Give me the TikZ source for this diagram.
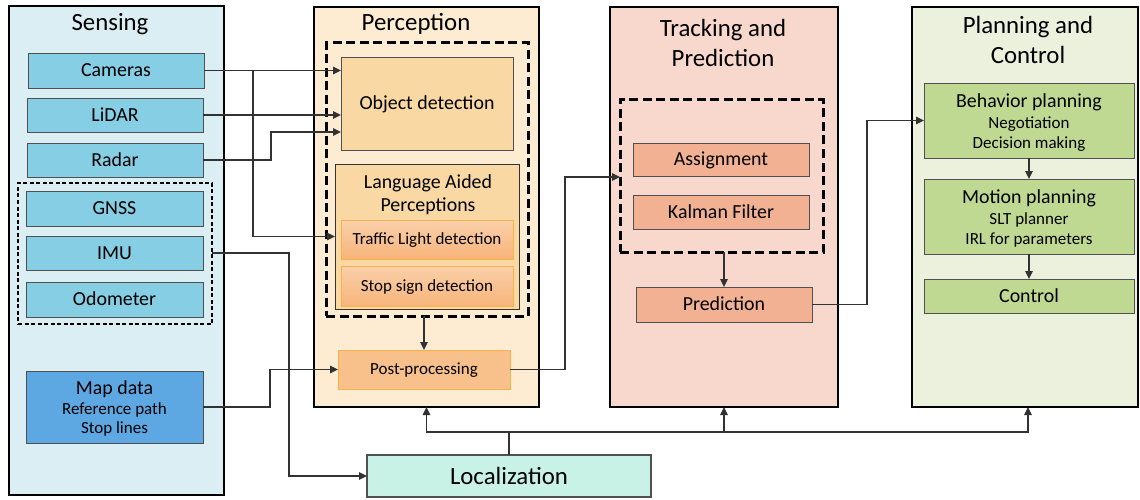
\documentclass[tikz,border=0pt]{standalone}
\usepackage{fontspec}
\setmainfont{Carlito}
\usetikzlibrary{arrows.meta,calc}
\definecolor{sensbg}{RGB}{218,238,244}
\definecolor{sensfill}{RGB}{134,206,228}
\definecolor{mapfill}{RGB}{93,168,226}
\definecolor{percbg}{RGB}{253,235,210}
\definecolor{objfill}{RGB}{249,216,163}
\definecolor{orgtop}{RGB}{250,208,170}
\definecolor{orgbot}{RGB}{247,180,122}
\definecolor{orgline}{RGB}{248,178,75}
\definecolor{postfill}{RGB}{248,192,138}
\definecolor{trackbg}{RGB}{248,216,204}
\definecolor{trackfill}{RGB}{241,177,146}
\definecolor{planbg}{RGB}{235,241,221}
\definecolor{planfill}{RGB}{192,217,146}
\definecolor{locfill}{RGB}{199,242,229}
\definecolor{boxgray}{RGB}{80,80,80}
\definecolor{linegray}{RGB}{50,50,50}
\newcommand\ftitle{\fontsize{24.8}{29.5}\selectfont}
\newcommand\fmain{\fontsize{19.9}{23}\selectfont}
\newcommand\fsmall{\fontsize{17}{20}\selectfont}
\begin{document}
\begin{tikzpicture}[x=1pt,y=-1pt,
  titlefont/.style={font=\ftitle, text height=16pt, text depth=0pt},
  mainfont/.style={font=\fmain, text height=12.8pt, text depth=0pt},
  smallfont/.style={font=\fsmall, text height=10.9pt, text depth=0pt},
  outerbox/.style={draw=black, line width=1.8pt, inner sep=0pt, outer sep=0pt},
  innerbox/.style={draw=boxgray, line width=0.9pt, inner sep=0pt, outer sep=0pt, mainfont},
  orangebox/.style={draw=orgline, line width=0.9pt, inner sep=0pt, outer sep=0pt, smallfont},
  thingroup/.style={draw=black, line width=1.4pt, dash pattern=on 4pt off 2.5pt, inner sep=0pt, outer sep=0pt},
  thickgroup/.style={draw=black, line width=3pt, dash pattern=on 9pt off 4.5pt, inner sep=0pt, outer sep=0pt},
  titletext/.style={titlefont, inner sep=0pt},
  maintext/.style={mainfont, inner sep=0pt},
  smalltext/.style={smallfont, inner sep=0pt},
  conn/.style={draw=linegray, line width=1.2pt},
  arr/.style={conn, -{Triangle[length=8pt,width=7.5pt]}}
]
\useasboundingbox (0,0) rectangle (1140,500);

% ---------- Sensing ----------
\node[outerbox, fill=sensbg, minimum width=215pt, minimum height=489pt] (sens) at (116.5,250.5) {};
\node[titletext] (senst) at (110,23) {Sensing};
\node[innerbox, fill=sensfill, minimum width=176pt, minimum height=35pt] (cam) at (116,70.5) {Cameras};
\node[innerbox, fill=sensfill, minimum width=176pt, minimum height=34pt] (lidar) at (115,115) {LiDAR};
\node[innerbox, fill=sensfill, minimum width=176pt, minimum height=34pt] (radar) at (115,160) {Radar};
\node[thingroup, minimum width=194pt, minimum height=141pt] (sgroup) at (115,253.5) {};
\node[innerbox, fill=sensfill, minimum width=177pt, minimum height=35pt] (gnss) at (114.5,208.5) {GNSS};
\node[innerbox, fill=sensfill, minimum width=177pt, minimum height=34pt] (imu) at (114.5,253) {IMU};
\node[innerbox, fill=sensfill, minimum width=177pt, minimum height=35pt] (odo) at (114.5,299.5) {Odometer};
\node[innerbox, fill=mapfill, minimum width=177pt, minimum height=72pt] (map) at (114.5,407) {};
\node[maintext] (mapt1) at (114.5,388) {Map data};
\node[smalltext] (mapt2) at (114.5,409) {Reference path};
\node[smalltext] (mapt3) at (114.5,428) {Stop lines};

% ---------- Perception ----------
\node[outerbox, fill=percbg, minimum width=225pt, minimum height=400pt] (perc) at (426.5,207) {};
\node[titletext] (perct) at (416,23) {Perception};
\node[thickgroup, minimum width=202pt, minimum height=273pt] (pgroup) at (427,179.5) {};
\node[innerbox, fill=objfill, minimum width=172pt, minimum height=93pt] (objdet) at (427,103.5) {Object detection};
\node[draw=black!80, line width=1pt, fill=objfill, inner sep=0pt, outer sep=0pt, minimum width=184pt, minimum height=145pt] (lang) at (427,236.5) {};
\node[maintext] (langt1) at (428,182) {Language Aided};
\node[maintext] (langt2) at (428,205) {Perceptions};
\node[orangebox, top color=orgtop, bottom color=orgbot, minimum width=172pt, minimum height=39pt] (traffic) at (427,239.5) {Traffic Light detection};
\node[orangebox, top color=orgtop, bottom color=orgbot, minimum width=172pt, minimum height=40pt] (stop) at (427,286) {Stop sign detection};
\node[orangebox, fill=postfill, minimum width=172pt, minimum height=39pt] (post) at (424,369.5) {Post-processing};

% ---------- Tracking and Prediction ----------
\node[outerbox, fill=trackbg, minimum width=228pt, minimum height=400pt] (track) at (724,207) {};
\node[titletext] (trackt1) at (723,29) {Tracking and};
\node[titletext] (trackt2) at (723,59) {Prediction};
\node[thickgroup, minimum width=203pt, minimum height=152pt] (tgroup) at (721.5,176) {};
\node[innerbox, fill=trackfill, minimum width=176pt, minimum height=33pt] (assign) at (721,159.5) {Assignment};
\node[innerbox, fill=trackfill, minimum width=176pt, minimum height=34pt] (kalman) at (721,212) {Kalman Filter};
\node[innerbox, fill=trackfill, minimum width=176pt, minimum height=35pt] (pred) at (724,304.5) {Prediction};

% ---------- Planning and Control ----------
\node[outerbox, fill=planbg, minimum width=226pt, minimum height=400pt] (plan) at (1025,207) {};
\node[titletext] (plant1) at (1028,26) {Planning and};
\node[titletext] (plant2) at (1028,56) {Control};
\node[innerbox, fill=planfill, minimum width=210pt, minimum height=75pt] (behav) at (1029,120.5) {};
\node[maintext] (behavt1) at (1029,101) {Behavior planning};
\node[smalltext] (behavt2) at (1029,123) {Negotiation};
\node[smalltext] (behavt3) at (1029,143) {Decision making};
\node[innerbox, fill=planfill, minimum width=210pt, minimum height=75pt] (motion) at (1029,216.5) {};
\node[maintext] (motiont1) at (1029,197) {Motion planning};
\node[smalltext] (motiont2) at (1029,219) {SLT planner};
\node[smalltext] (motiont3) at (1029,239) {IRL for parameters};
\node[innerbox, fill=planfill, minimum width=210pt, minimum height=34pt] (control) at (1029,296) {Control};

% ---------- Localization ----------
\node[draw=boxgray, line width=1.2pt, fill=locfill, inner sep=0pt, outer sep=0pt, minimum width=284pt, minimum height=42pt, titlefont] (loc) at (509,476) {Localization};

% ---------- Connectors ----------
\draw[arr] (cam.east) -- (cam.east -| objdet.west);
\coordinate (camsplit) at ($(cam.east)+(49,0)$);
\draw[arr] (camsplit) |- (lang.west);
\draw[arr] (lidar.east) -- (lidar.east -| objdet.west);
\draw[arr] (radar.east) -- ++(68,0) |- ($(objdet.west)+(0,28.5)$);
\draw[arr] (sgroup.east |- imu.east) -- ++(77,0) |- (loc.west);
\draw[arr] (map.east) -- ++(67,0) |- (post.west);
\draw[arr] (post.north |- pgroup.south) -- (post.north);
\draw[arr] (post.east) -- ++(55,0) |- ($(tgroup.west)+(0,1)$);
\draw[arr] (pred.north |- tgroup.south) -- (pred.north);
\draw[arr] (pred.east) -- ++(55,0) |- (behav.west);
\draw[arr] (behav.south) -- (motion.north);
\draw[arr] (motion.south) -- (control.north);
\coordinate (locjoin) at ($(loc.north)+(0,-23)$);
\draw[conn] (loc.north) -- (locjoin);
\draw[arr] (locjoin) -| (perc.south);
\draw[arr] (locjoin) -| (track.south);
\draw[arr] (locjoin) -| ($(plan.south)+(3,0)$);
\end{tikzpicture}
\end{document}
